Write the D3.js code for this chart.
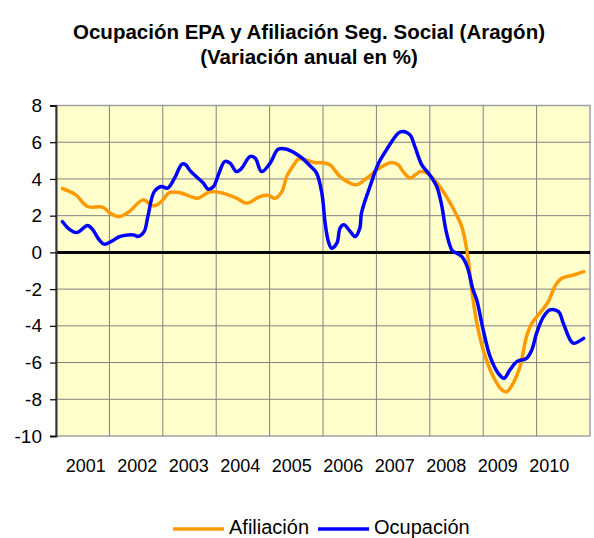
<!DOCTYPE html>
<html><head><meta charset="utf-8">
<script src="https://cdn.jsdelivr.net/npm/d3@7"></script>
<style>body{margin:0;background:#fff}svg{display:block;font-family:"Liberation Sans",Arial,sans-serif}</style>
</head><body>
<svg id="c" width="594" height="538"></svg>
<script>
const titleLines = ["Ocupación EPA y Afiliación Seg. Social (Aragón)", "(Variación anual en %)"];
const years = [2001,2002,2003,2004,2005,2006,2007,2008,2009,2010];
const yTicks = [8,6,4,2,0,-2,-4,-6,-8,-10];
const seriesNames = ["Afiliación","Ocupación"];
const seriesColors = ["#FF9900","#0000FF"];

const afilT = [2001.12,2001.37,2001.59,2001.87,2002.03,2002.19,2002.37,2002.63,2002.80,2002.90,2003.0,2003.12,2003.31,2003.51,2003.66,2003.88,2004.13,2004.38,2004.57,2004.82,2004.98,2005.10,2005.23,2005.32,2005.45,2005.54,2005.72,2005.85,2006.0,2006.13,2006.32,2006.51,2006.63,2006.82,2007.01,2007.15,2007.29,2007.41,2007.50,2007.63,2007.72,2007.82,2007.94,2008.10,2008.32,2008.50,2008.60,2008.67,2008.72,2008.78,2008.87,2009.0,2009.19,2009.35,2009.44,2009.56,2009.69,2009.81,2009.91,2010.06,2010.22,2010.34,2010.47,2010.69,2010.88];
const afilV = [3.48,3.13,2.50,2.46,2.10,1.95,2.22,2.86,2.55,2.60,2.86,3.26,3.26,3.05,2.95,3.30,3.22,2.95,2.68,3.04,3.10,2.95,3.31,4.13,4.75,5.08,5.00,4.89,4.88,4.77,4.13,3.77,3.68,4.04,4.50,4.75,4.89,4.77,4.40,4.04,4.20,4.40,4.32,3.90,3.00,2.04,1.40,0.50,-0.40,-1.90,-3.68,-5.31,-6.77,-7.49,-7.59,-7.13,-6.22,-4.59,-3.86,-3.31,-2.68,-1.86,-1.41,-1.23,-1.05];

const ocupT = [2001.12,2001.25,2001.39,2001.59,2001.69,2001.81,2001.90,2002.03,2002.19,2002.35,2002.47,2002.53,2002.65,2002.72,2002.84,2002.97,2003.09,2003.22,2003.36,2003.43,2003.51,2003.66,2003.76,2003.85,2003.95,2004.05,2004.16,2004.26,2004.38,2004.48,2004.63,2004.73,2004.85,2005.01,2005.16,2005.32,2005.57,2005.76,2005.88,2005.98,2006.04,2006.10,2006.16,2006.26,2006.32,2006.39,2006.51,2006.60,2006.69,2006.72,2006.88,2007.04,2007.19,2007.41,2007.50,2007.63,2007.72,2007.85,2008.0,2008.13,2008.22,2008.31,2008.42,2008.50,2008.60,2008.70,2008.81,2008.88,2009.0,2009.13,2009.28,2009.39,2009.50,2009.63,2009.81,2009.91,2010.0,2010.13,2010.25,2010.41,2010.50,2010.63,2010.69,2010.88];
const ocupV = [1.68,1.26,1.08,1.46,1.23,0.68,0.45,0.59,0.86,0.95,0.94,0.86,1.13,1.95,3.31,3.59,3.50,4.04,4.81,4.77,4.45,4.04,3.77,3.44,3.59,4.30,4.95,4.86,4.40,4.59,5.22,5.13,4.40,4.86,5.62,5.62,5.22,4.71,4.32,3.20,1.59,0.60,0.23,0.50,1.32,1.50,1.14,0.86,1.32,2.14,3.59,4.86,5.59,6.50,6.59,6.40,5.77,4.77,4.22,3.59,2.60,1.10,0.10,-0.04,-0.23,-0.77,-2.04,-2.59,-4.22,-5.68,-6.58,-6.86,-6.40,-5.95,-5.77,-5.31,-4.40,-3.50,-3.13,-3.23,-3.86,-4.77,-4.95,-4.68];

const svg = d3.select("#c");
const L = 56, R = 590, T = 105.5, B = 436;
const x = d3.scaleLinear().domain([2001, 2011]).range([L, R]);
const y = d3.scaleLinear().domain([-10, 8]).range([B, T]);

// title
svg.append("g").selectAll("text").data(titleLines).join("text")
  .attr("x", 309).attr("y", (d,i)=>39 + i*25)
  .attr("text-anchor","middle").attr("font-weight","bold").attr("font-size",20.5)
  .attr("fill","#000").text(d=>d);

// plot background
svg.append("rect").attr("x",L).attr("y",T).attr("width",R-L).attr("height",B-T)
  .attr("fill","#FFFFCC").attr("stroke","#A0A0A0").attr("stroke-width",1.5);

// grid
const g = svg.append("g");
g.selectAll("line.h").data(yTicks.filter(v=>v!==8 && v!==-10 && v!==0)).join("line")
  .attr("x1",L).attr("x2",R).attr("y1",d=>y(d)).attr("y2",d=>y(d))
  .attr("stroke","#808080").attr("stroke-width",1);
g.selectAll("line.v").data(years.slice(1)).join("line")
  .attr("x1",d=>x(d)).attr("x2",d=>x(d)).attr("y1",T).attr("y2",B)
  .attr("stroke","#808080").attr("stroke-width",1);

// zero line
svg.append("line").attr("x1",L).attr("x2",R).attr("y1",y(0)).attr("y2",y(0))
  .attr("stroke","#000").attr("stroke-width",3);

// y axis
const ya = svg.append("g").attr("transform",`translate(${L},0)`)
  .call(d3.axisLeft(y).tickValues(yTicks).tickSize(6).tickPadding(8).tickFormat(d=>String(d)));
ya.select(".domain").attr("stroke","#333").attr("stroke-width",2);
ya.selectAll(".tick line").attr("stroke","#000").attr("stroke-width",1.2);
ya.selectAll(".tick text").attr("font-size",19).attr("fill","#000")
  .attr("font-family","'Liberation Sans',Arial,sans-serif");

// x labels
const xl = d3.scalePoint().domain(years).range([x(2001.5)+3, x(2010.5)-14]);
svg.append("g").selectAll("text").data(years).join("text")
  .attr("x", d=>xl(d)).attr("y", 472)
  .attr("text-anchor","middle").attr("font-size",18).attr("fill","#000").text(d=>d);

// lines
const line = d3.line().x(d=>x(d[0])).y(d=>y(d[1])).curve(d3.curveCatmullRom.alpha(0.5));
const series = [d3.zip(afilT, afilV), d3.zip(ocupT, ocupV)];
svg.append("g").selectAll("path").data(series).join("path")
  .attr("d", line).attr("fill","none")
  .attr("stroke",(d,i)=>seriesColors[i]).attr("stroke-width",3.5)
  .attr("stroke-linejoin","round").attr("stroke-linecap","round");

// legend
const lg = svg.append("g");
let cx = 173;
seriesNames.forEach((n,i)=>{
  const gi = lg.append("g");
  gi.append("line").attr("x1",cx).attr("x2",cx+51).attr("y1",529).attr("y2",529)
    .attr("stroke",seriesColors[i]).attr("stroke-width",3.5);
  const t = gi.append("text").attr("x",cx+56).attr("y",534).attr("font-size",20).attr("fill","#000").text(n);
  cx = cx + 56 + t.node().getComputedTextLength() + 9;
});
</script>
</body></html>
